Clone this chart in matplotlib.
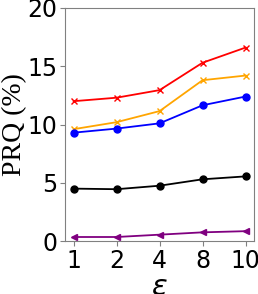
import matplotlib
matplotlib.use("Agg")
import matplotlib.pyplot as plt

eps_labels = ["1", "2", "4", "8", "10"]
red = [12.0, 12.3, 12.95, 15.3, 16.6]
orange = [9.6, 10.2, 11.15, 13.8, 14.2]
blue = [9.3, 9.65, 10.1, 11.65, 12.4]
black = [4.5, 4.45, 4.75, 5.3, 5.55]
purple = [0.35, 0.35, 0.55, 0.75, 0.85]

x = list(range(len(eps_labels)))

fig = plt.figure(figsize=(2.58, 2.94), dpi=100)
ax = fig.add_axes([0.252, 0.18, 0.733, 0.793])

ax.plot(x, red, color="red", marker="x", markersize=5, linewidth=1.3)
ax.plot(x, orange, color="orange", marker="x", markersize=5, linewidth=1.3)
ax.plot(x, blue, color="blue", marker="o", markersize=5, linewidth=1.3)
ax.plot(x, black, color="black", marker="o", markersize=5, linewidth=1.3)
ax.plot(x, purple, color="purple", marker="<", markersize=5, linewidth=1.3)

ax.set_xlim(-0.2, 4.2)
ax.set_ylim(0, 20)
ax.set_yticks([0, 5, 10, 15, 20])
ax.set_xticks(x)
ax.set_xticklabels(eps_labels)
ax.tick_params(labelsize=17, pad=2)
for s in ax.spines.values():
    s.set_color("gray")
ax.tick_params(color="gray")

ax.set_ylabel("PRQ (%)", fontsize=20, family="Liberation Serif", labelpad=0)
ax.set_xlabel(r"$\varepsilon$", fontsize=21, labelpad=0)

fig.savefig("out.png", dpi=100)
